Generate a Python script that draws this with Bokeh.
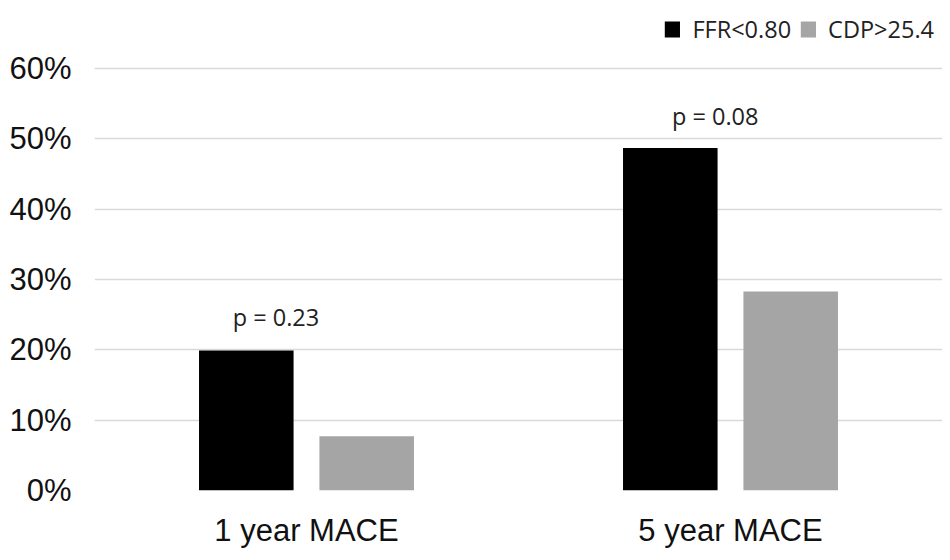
from bokeh.plotting import figure
from bokeh.models import FactorRange, Range1d, FixedTicker, NumeralTickFormatter, ColumnDataSource, Legend, LegendItem
from bokeh.transform import dodge
from bokeh.core.properties import value
from bokeh.embed import file_html
from bokeh.resources import INLINE

# ---- data ----
categories = ["1 year MACE", "5 year MACE"]
series_names = ["FFR<0.80", "CDP>25.4"]
ffr_values = [0.199, 0.487]
cdp_values = [0.077, 0.283]
p_labels = ["p = 0.23", "p = 0.08"]
p_label_y = [0.246, 0.532]
y_ticks = [0, 0.1, 0.2, 0.3, 0.4, 0.5, 0.6]

# ---- styling / layout ----
p_label_dx = [-0.072, -0.036]
colors = ["#000000", "#a5a5a5"]
bar_offset = 0.142
bar_width = 0.223

src = ColumnDataSource(dict(cat=categories, ffr=ffr_values, cdp=cdp_values))

p = figure(width=942, height=552, output_backend="svg", toolbar_location=None,
           x_range=FactorRange(factors=categories, range_padding=0),
           y_range=Range1d(0, 0.6896),
           min_border_left=94, min_border_right=0, min_border_top=5, min_border_bottom=62)
p.x_range.range_padding = 0
p.outline_line_color = None
p.background_fill_color = "white"

r1 = p.vbar(x=dodge("cat", -bar_offset, range=p.x_range), top="ffr", width=bar_width,
            source=src, fill_color=colors[0], line_color=None)
r2 = p.vbar(x=dodge("cat", bar_offset, range=p.x_range), top="cdp", width=bar_width,
            source=src, fill_color=colors[1], line_color=None)

for i in range(len(categories)):
    s = ColumnDataSource(dict(cat=[categories[i]], y=[p_label_y[i]], t=[p_labels[i]]))
    p.text(x=dodge("cat", p_label_dx[i], range=p.x_range), y="y", text="t", source=s,
           text_align="center", text_baseline="alphabetic",
           text_font=value("Open Sans"), text_font_size="23.5px", text_color="#222222")

p.yaxis.ticker = FixedTicker(ticks=y_ticks)
p.yaxis.formatter = NumeralTickFormatter(format="0%")
for ax in (p.xaxis[0], p.yaxis[0]):
    ax.axis_line_color = None
    ax.major_tick_line_color = None
    ax.minor_tick_line_color = None
    ax.major_tick_out = 0
    ax.major_tick_in = 0
    ax.major_label_text_font = "Liberation Sans"
    ax.major_label_text_color = "#111111"
p.yaxis.major_label_text_font_size = "31px"
p.yaxis.major_label_standoff = 23
p.xaxis.major_label_text_font_size = "31px"
p.xaxis.major_label_standoff = 22

p.xgrid.grid_line_color = None
p.ygrid.ticker = FixedTicker(ticks=y_ticks)
p.ygrid.grid_line_color = "#d9d9d9"
p.ygrid.grid_line_width = 1.3

legend = Legend(items=[LegendItem(label=series_names[0], renderers=[r1]),
                       LegendItem(label=series_names[1], renderers=[r2])],
                location="top_right", orientation="horizontal",
                margin=8, padding=10, spacing=7, label_standoff=11,
                glyph_width=19, glyph_height=20,
                border_line_color=None, background_fill_alpha=0,
                label_text_font="Open Sans", label_text_font_size="23.5px",
                label_text_color="#222222")
p.add_layout(legend)

open("out.html", "w").write(file_html(p, INLINE))
